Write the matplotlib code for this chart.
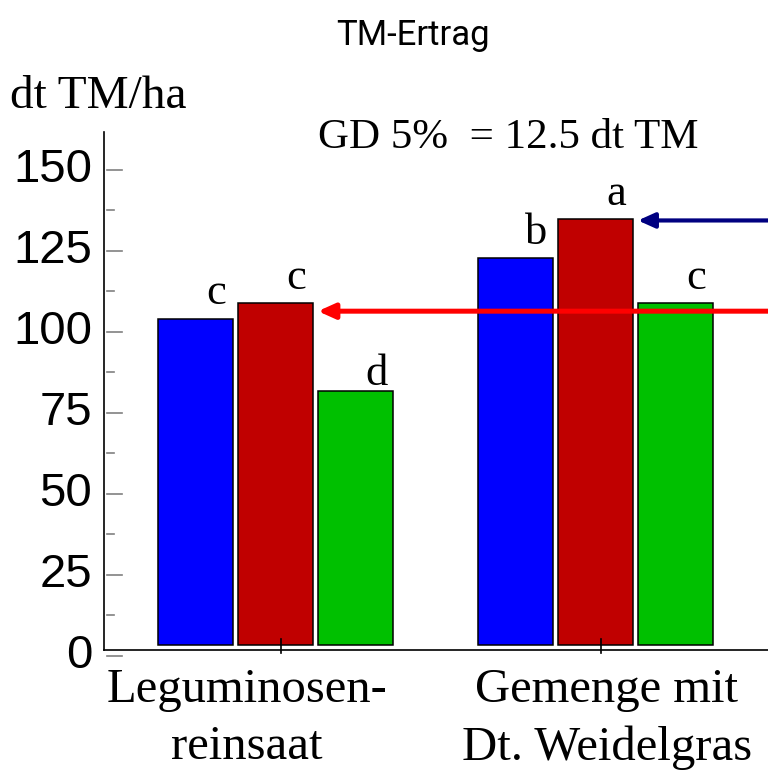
import matplotlib
matplotlib.use("Agg")
import matplotlib.pyplot as plt
from matplotlib.lines import Line2D
import numpy as np

# --- data -------------------------------------------------------------
groups = ["Leguminosen-\nreinsaat", "Gemenge mit\nDt. Weidelgras"]
series_colors = ["#0000FF", "#C00000", "#00C000"]
yield_leg = [103, 108, 81]       # dt TM/ha, Leguminosenreinsaat
yield_mix = [122, 134, 108]      # dt TM/ha, Gemenge mit Dt. Weidelgras
letters_leg = ["c", "c", "d"]
letters_mix = ["b", "a", "c"]
bar_base = 2.5
arrow_levels = [105.5, 133.5]    # red arrow, navy arrow
arrow_colors = ["#FF0000", "#000080"]
y_major = [0, 25, 50, 75, 100, 125, 150]
y_minor = [12.5, 37.5, 62.5, 87.5, 112.5, 137.5]

# --- figure -----------------------------------------------------------
W, H = 768, 778
fig = plt.figure(figsize=(W / 100, H / 100), dpi=100)
ax_l, ax_b, ax_t = 104, 650, 132
ax = fig.add_axes([ax_l / W, (H - ax_b) / H, 1 - ax_l / W, (ax_b - ax_t) / H])
ax_w_px = W - ax_l
ax_h_px = ax_b - ax_t

ax.set_xlim(-2.144, 6.156)
ax.set_ylim(0.93, 160.8)

serif = ["Liberation Serif", "DejaVu Serif"]
sans = ["Liberation Sans", "DejaVu Sans"]

group_pos = [0, 4]
width = 0.9375
offsets = [-1, 0, 1]
letter_dy = [[2.0, 1.5, -1.0], [1.5, 1.5, 1.5]]
for g, (vals, lets) in enumerate([(yield_leg, letters_leg), (yield_mix, letters_mix)]):
    for i, (v, c, lt) in enumerate(zip(vals, series_colors, lets)):
        x = group_pos[g] + offsets[i]
        ax.bar(x, v - bar_base, bottom=bar_base, width=width, color=c,
               edgecolor="black", linewidth=1.1, zorder=2)
        ax.text(x + 0.26, v + letter_dy[g][i], lt, ha="center", va="bottom",
                fontsize=32, family=serif, zorder=4)

# arrows coming in from the right edge
arrow_tips = [group_pos[0] + 0.53, group_pos[1] + 0.53]
for lvl, col, tip, lw in zip(arrow_levels, arrow_colors, arrow_tips, [3.6, 3.0]):
    ax.annotate("", xy=(tip, lvl), xytext=(6.25, lvl),
                arrowprops=dict(arrowstyle="-|>,head_length=1.0,head_width=0.45",
                                color=col, lw=lw, shrinkA=0, shrinkB=0),
                annotation_clip=False, zorder=5)

# spines
for s in ["top", "right"]:
    ax.spines[s].set_visible(False)
for s in ["left", "bottom"]:
    ax.spines[s].set_linewidth(1.2)
    ax.spines[s].set_color("black")
ax.set_xticks([])
ax.set_yticks([])

# y ticks drawn as short grey dashes just inside the axis
ytr = ax.get_yaxis_transform()
gap = 3 / ax_w_px
for v in y_major:
    ax.add_line(Line2D([gap, gap + 15 / ax_w_px], [v - 0.9, v - 0.9], transform=ytr,
                       color="#808080", lw=1.2, clip_on=False))
    ax.text(-12 / ax_w_px, v - 0.8, str(v), transform=ytr, ha="right", va="center",
            fontsize=34, family=sans)
for v in y_minor:
    ax.add_line(Line2D([gap, gap + 7 / ax_w_px], [v - 0.9, v - 0.9], transform=ytr,
                       color="#808080", lw=1.2, clip_on=False))

# category ticks crossing the x axis
xtr = ax.get_xaxis_transform()
for gx in group_pos:
    ax.add_line(Line2D([gx + 0.07, gx + 0.07], [-3 / ax_h_px, 11 / ax_h_px],
                       transform=xtr, color="black", lw=1.2, clip_on=False))

label_x = [-0.36, 4.14]
for gx, lab in zip(label_x, groups):
    ax.text(gx, -18 / ax_h_px, lab, transform=xtr, ha="center", va="top",
            fontsize=35, family=serif, linespacing=1.38)

# headings
fig.text(413 / W, 1 - 36 / H, "TM-Ertrag", ha="center", va="center",
         fontsize=25, family=["Roboto", "DejaVu Sans"], color="black")
fig.text(10 / W, 1 - 97 / H, "dt TM/ha", ha="left", va="center",
         fontsize=34, family=serif)
fig.text(318 / W, 1 - 138 / H, "GD 5%  = 12.5 dt TM", ha="left", va="center",
         fontsize=31, family=serif)

fig.savefig("out.png", dpi=100)
